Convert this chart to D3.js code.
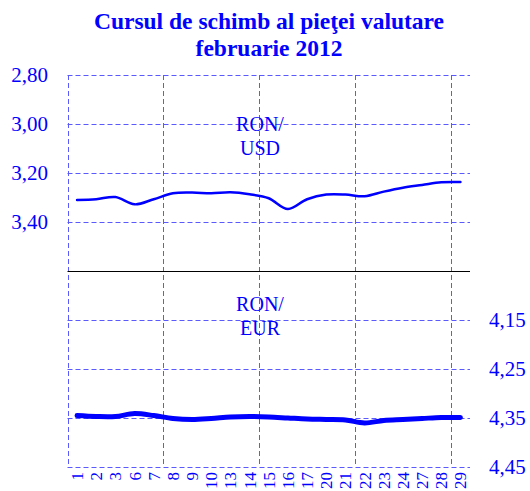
<!DOCTYPE html>
<html><head><meta charset="utf-8">
<script src="https://cdn.jsdelivr.net/npm/d3@7"></script>
<style>body{margin:0;background:#fff}svg{display:block}</style>
</head><body>
<svg id="c" width="530" height="491"></svg>
<script>
const days = ["1","2","3","6","7","8","9","10","13","14","15","16","17","20","21","22","23","24","27","28","29"];
const usd = [3.310,3.307,3.298,3.328,3.307,3.283,3.280,3.283,3.279,3.287,3.303,3.347,3.307,3.288,3.288,3.295,3.276,3.260,3.249,3.238,3.237];
const eur = [4.345,4.347,4.347,4.341,4.345,4.351,4.353,4.351,4.348,4.347,4.348,4.350,4.352,4.353,4.354,4.360,4.355,4.353,4.351,4.349,4.349];
const usdTicks = [2.80,3.00,3.20,3.40];
const eurTicks = [4.15,4.25,4.35,4.45];

const svg = d3.select("#c");
const left = 67.5, right = 470, top1 = 75, mid = 271, bottom = 467;
const blue = "#0000ff", grid = "#5a5aff";
const font = "'Liberation Serif','Times New Roman',serif";

const x = d3.scaleBand().domain(days).range([left, right]);
const y1 = d3.scaleLinear().domain([2.80, 3.60]).range([top1, mid]);
const y2 = d3.scaleLinear().domain([4.05, 4.45]).range([mid, bottom]);
const fmt = d => d.toFixed(2).replace(".", ",");
const px = v => Math.round(v) + 0.5;

// title
const t = svg.append("text").attr("x", 269).attr("text-anchor","middle")
  .attr("font-family", font).attr("font-weight","bold").attr("font-size", 23.5).attr("fill", blue);
t.append("tspan").attr("x",269).attr("y",29).text("Cursul de schimb al pieţei valutare");
t.append("tspan").attr("x",269).attr("y",56).text("februarie 2012");

// horizontal gridlines
const g = svg.append("g").attr("stroke", grid).attr("stroke-dasharray","5,3").attr("stroke-width",1);
usdTicks.forEach(v => g.append("line").attr("x1",left).attr("x2",right).attr("y1",px(y1(v))).attr("y2",px(y1(v))));
eurTicks.forEach(v => g.append("line").attr("x1",left).attr("x2",right).attr("y1",px(y2(v))).attr("y2",px(y2(v))));
// vertical gridlines every 5 categories
days.forEach((d,i) => { if (i % 5 === 0) {
  const xx = px(x(d));
  g.append("line").attr("x1",xx).attr("x2",xx).attr("y1",top1).attr("y2",bottom);
}});

// separator
svg.append("line").attr("x1",left).attr("x2",right).attr("y1",px(mid)).attr("y2",px(mid))
  .attr("stroke","#000").attr("stroke-width",1);

// left axis labels
svg.append("g").selectAll("text").data(usdTicks).join("text")
  .attr("x", 48).attr("y", d => y1(d)).attr("dy","0.35em").attr("text-anchor","end")
  .attr("font-family", font).attr("font-size", 21).attr("fill", blue).text(fmt);
// right axis labels
svg.append("g").selectAll("text").data(eurTicks).join("text")
  .attr("x", 489).attr("y", d => y2(d)).attr("dy","0.35em").attr("text-anchor","start")
  .attr("font-family", font).attr("font-size", 21).attr("fill", blue).text(fmt);

// x labels
svg.append("g").selectAll("text").data(days).join("text")
  .attr("transform", d => `translate(${x(d)+x.bandwidth()/2},472) rotate(-90)`)
  .attr("dy","0.35em").attr("text-anchor","end")
  .attr("font-family", font).attr("font-size", 17).attr("fill", blue).text(d => d);

// series labels
const lab = (lines, yy) => {
  const tt = svg.append("text").attr("text-anchor","middle").attr("font-family", font)
    .attr("font-size", 20).attr("fill", blue);
  lines.forEach((s,i) => tt.append("tspan").attr("x",260).attr("y",yy+i*24).text(s));
};
lab(["RON/","USD"], 131);
lab(["RON/","EUR"], 311);

// lines
const cx = d => x(d) + x.bandwidth()/2;
const l1 = d3.line().x((v,i)=>cx(days[i])).y(v=>y1(v)).curve(d3.curveCatmullRom.alpha(0.5));
const l2 = d3.line().x((v,i)=>cx(days[i])).y(v=>y2(v)).curve(d3.curveCatmullRom.alpha(0.5));
svg.append("path").attr("d", l1(usd)).attr("fill","none").attr("stroke",blue).attr("stroke-width",2.5).attr("stroke-linecap","round");
svg.append("path").attr("d", l2(eur)).attr("fill","none").attr("stroke",blue).attr("stroke-width",5).attr("stroke-linecap","round");
</script>
</body></html>
